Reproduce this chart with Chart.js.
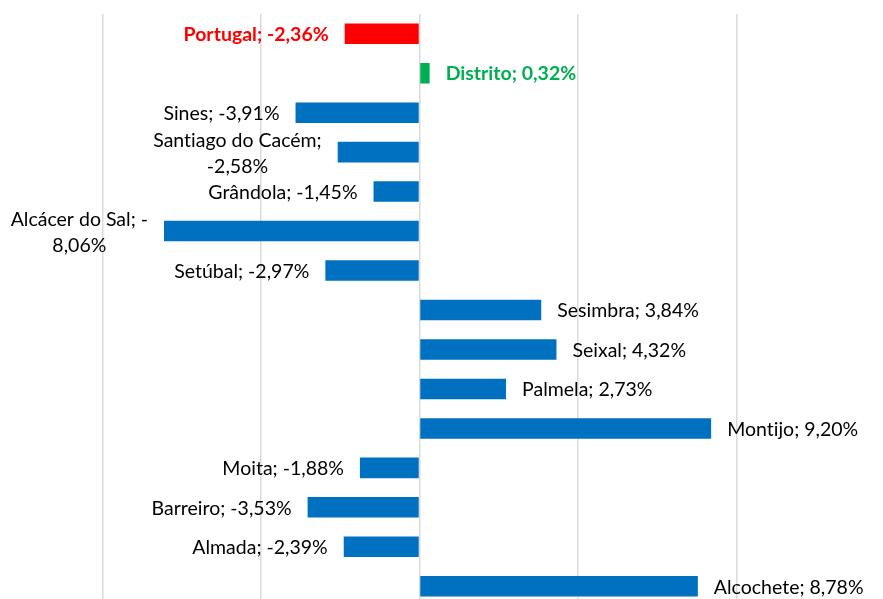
<!DOCTYPE html>
<html>
<head>
<meta charset="utf-8">
<script src="https://cdn.jsdelivr.net/npm/chart.js@4"></script>
<style>
html,body{margin:0;padding:0;background:#fff;overflow:hidden;width:883px;height:599px;}
canvas{display:block;}
</style>
</head>
<body>
<canvas id="c" width="883" height="606"></canvas>
<script>
const categories = ["Portugal","Distrito","Sines","Santiago do Cacém","Grândola","Alcácer do Sal","Setúbal","Sesimbra","Seixal","Palmela","Montijo","Moita","Barreiro","Almada","Alcochete"];
const values = [-2.36, 0.32, -3.91, -2.58, -1.45, -8.06, -2.97, 3.84, 4.32, 2.73, 9.20, -1.88, -3.53, -2.39, 8.78];
const labelTexts = ["Portugal; -2,36%","Distrito; 0,32%","Sines; -3,91%","Santiago do Cacém;\n-2,58%","Grândola; -1,45%","Alcácer do Sal; -\n8,06%","Setúbal; -2,97%","Sesimbra; 3,84%","Seixal; 4,32%","Palmela; 2,73%","Montijo; 9,20%","Moita; -1,88%","Barreiro; -3,53%","Almada; -2,39%","Alcochete; 8,78%"];
const barColors = ["#ff0000","#00b050","#0070c0","#0070c0","#0070c0","#0070c0","#0070c0","#0070c0","#0070c0","#0070c0","#0070c0","#0070c0","#0070c0","#0070c0","#0070c0"];
const labelColors = ["#ff0000","#00b050","#000000","#000000","#000000","#000000","#000000","#000000","#000000","#000000","#000000","#000000","#000000","#000000","#000000"];
const labelBold = [true,true,false,false,false,false,false,false,false,false,false,false,false,false,false];
const xTicks = [-10,-5,0,5,10];

const labelPlugin = {
  id: 'barLabels',
  afterDatasetsDraw(chart) {
    const ctx = chart.ctx;
    const meta = chart.getDatasetMeta(0);
    ctx.save();
    try { ctx.textRendering = "optimizeSpeed"; } catch (e) {}
    meta.data.forEach((bar, i) => {
      const v = values[i];
      const lines = labelTexts[i].split("\n");
      ctx.font = (labelBold[i] ? "bold " : "") + "19.5px Lato";
      ctx.fillStyle = labelColors[i];
      ctx.textBaseline = "middle";
      const gap = 16;
      const lh = 26;
      let x, align;
      if (v < 0) { x = bar.x - gap; align = "right"; } else { x = bar.x + gap; align = "left"; }
      if (lines.length === 1) {
        ctx.textAlign = align;
        ctx.fillText(lines[0], x, bar.y + 1);
      } else {
        const widths = lines.map(l => ctx.measureText(l).width);
        const maxW = Math.max(...widths);
        const cx = align === "right" ? x - maxW / 2 : x + maxW / 2;
        ctx.textAlign = "center";
        const startY = bar.y + 1.5 - (lines.length - 1) * lh / 2;
        lines.forEach((l, k) => ctx.fillText(l, cx, startY + k * lh));
      }
    });
    ctx.restore();
  }
};

new Chart(document.getElementById('c'), {
  type: 'bar',
  data: {
    labels: categories,
    datasets: [{
      data: values,
      backgroundColor: barColors,
      borderWidth: 0,
      barPercentage: 0.52,
      categoryPercentage: 1.0
    }]
  },
  options: {
    indexAxis: 'y',
    responsive: false,
    animation: false,
    devicePixelRatio: 1,
    layout: { padding: { left: 102.5, right: 146.5, top: 14, bottom: 0 } },
    plugins: { legend: { display: false }, tooltip: { enabled: false } },
    scales: {
      x: {
        min: -10, max: 10,
        afterBuildTicks(axis) { axis.ticks = xTicks.map(v => ({ value: v })); },
        ticks: { display: false },
        grid: { color: '#d9d9d9', lineWidth: 1.5, drawTicks: false },
        border: { display: false }
      },
      y: {
        display: false
      }
    }
  },
  plugins: [labelPlugin]
});
</script>
</body>
</html>
